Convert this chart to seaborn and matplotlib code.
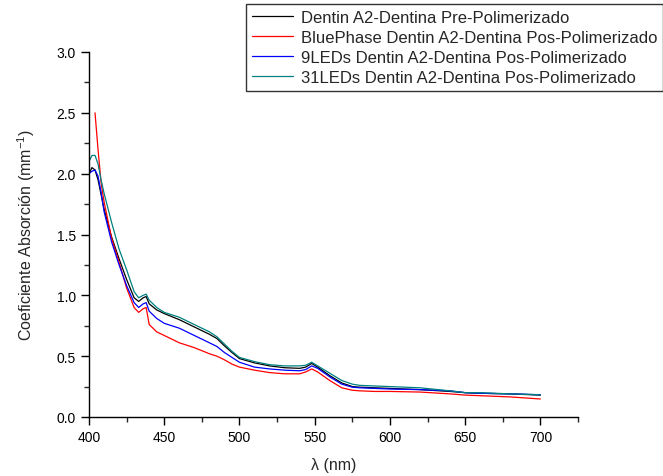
import matplotlib
matplotlib.use("Agg")
import matplotlib.pyplot as plt
from matplotlib.ticker import MultipleLocator, FormatStrFormatter
import seaborn as sns

# Wavelength grid (nm)
wl = [400, 402, 404, 406, 408, 410, 415, 420, 425, 430, 433, 436, 438, 440, 445,
      450, 460, 470, 480, 485, 490, 495, 500, 510, 520, 530, 540, 544, 548, 552,
      560, 568, 575, 580, 590, 600, 620, 640, 650, 660, 680, 700]

# Absorption coefficients (mm^-1)
pre_poly = [2.00, 2.05, 2.03, 1.95, 1.83, 1.71, 1.48, 1.30, 1.13, 0.98, 0.95, 0.98, 0.99, 0.93, 0.88,
            0.85, 0.80, 0.74, 0.68, 0.645, 0.585, 0.53, 0.48, 0.445, 0.42, 0.405, 0.40, 0.41, 0.44, 0.41,
            0.34, 0.28, 0.25, 0.245, 0.24, 0.235, 0.225, 0.21, 0.20, 0.195, 0.19, 0.18]

led9 = [2.00, 2.02, 2.03, 1.98, 1.85, 1.69, 1.44, 1.25, 1.08, 0.94, 0.90, 0.93, 0.94, 0.87, 0.81,
        0.77, 0.73, 0.67, 0.61, 0.58, 0.53, 0.49, 0.45, 0.41, 0.395, 0.385, 0.38, 0.39, 0.42, 0.40,
        0.33, 0.27, 0.245, 0.24, 0.235, 0.23, 0.225, 0.215, 0.20, 0.195, 0.19, 0.183]

led31 = [2.10, 2.15, 2.15, 2.08, 1.95, 1.84, 1.60, 1.38, 1.21, 1.03, 0.98, 1.00, 1.01, 0.96, 0.90,
         0.86, 0.82, 0.76, 0.70, 0.66, 0.60, 0.54, 0.49, 0.455, 0.43, 0.42, 0.42, 0.425, 0.45, 0.42,
         0.36, 0.30, 0.27, 0.26, 0.255, 0.25, 0.24, 0.215, 0.20, 0.20, 0.19, 0.183]

wl_bp = wl[2:]
bluephase = [2.50, 2.20, 1.93, 1.77, 1.47, 1.27, 1.06, 0.90, 0.86, 0.89, 0.90, 0.76, 0.70,
             0.67, 0.61, 0.57, 0.52, 0.50, 0.47, 0.435, 0.41, 0.385, 0.365, 0.355, 0.355, 0.37, 0.395, 0.37,
             0.30, 0.24, 0.22, 0.215, 0.21, 0.21, 0.205, 0.19, 0.18, 0.175, 0.165, 0.148]

labels = ["Dentin A2-Dentina Pre-Polimerizado",
          "BluePhase Dentin A2-Dentina Pos-Polimerizado",
          "9LEDs Dentin A2-Dentina Pos-Polimerizado",
          "31LEDs Dentin A2-Dentina Pos-Polimerizado"]
colors = ["#000000", "#ff0000", "#0000ff", "#008080"]

sns.set_style("ticks")
plt.rcParams["font.family"] = ["Liberation Sans", "DejaVu Sans"]
plt.rcParams["mathtext.default"] = "regular"

fig = plt.figure(figsize=(6.63, 4.77), dpi=100)
ax = fig.add_axes([89 / 663, 1 - 418 / 477, (578 - 89) / 663, (418 - 53) / 477])

series = [(wl, pre_poly), (wl_bp, bluephase), (wl, led9), (wl, led31)]
for (x, y), lab, c in zip(series, labels, colors):
    sns.lineplot(x=x, y=y, ax=ax, color=c, label=lab, linewidth=0.9, legend=False)

ax.set_xlim(400, 725)
ax.set_ylim(0, 3.0)
ax.xaxis.set_major_locator(MultipleLocator(50))
ax.xaxis.set_minor_locator(MultipleLocator(25))
ax.yaxis.set_major_locator(MultipleLocator(0.5))
ax.yaxis.set_minor_locator(MultipleLocator(0.25))
ax.xaxis.set_major_formatter(FormatStrFormatter("%d"))
ax.yaxis.set_major_formatter(FormatStrFormatter("%.1f"))
ax.tick_params(which="major", direction="out", length=6, width=1.0, labelsize=10, colors="black")
ax.tick_params(which="minor", direction="out", length=3.5, width=1.0)
for s in ["top", "right"]:
    ax.spines[s].set_visible(False)
for s in ["left", "bottom"]:
    ax.spines[s].set_linewidth(1.0)
    ax.spines[s].set_color("black")

ax.set_xlabel("λ (nm)", fontsize=11.5, labelpad=9)
ax.set_ylabel("Coeficiente Absorción (mm$^{-1}$)", fontsize=11.5, labelpad=14)

handles, labs = ax.get_legend_handles_labels()
leg = fig.legend(handles, labs, loc="upper right", bbox_to_anchor=(663 / 663, 1 - 5 / 477),
                 frameon=True, fancybox=False, fontsize=12, handlelength=2.5,
                 handletextpad=0.45, labelspacing=0.3, borderpad=0.35, borderaxespad=0)
leg.get_frame().set_edgecolor("black")
leg.get_frame().set_linewidth(1.0)

fig.savefig("out.png", dpi=100)
